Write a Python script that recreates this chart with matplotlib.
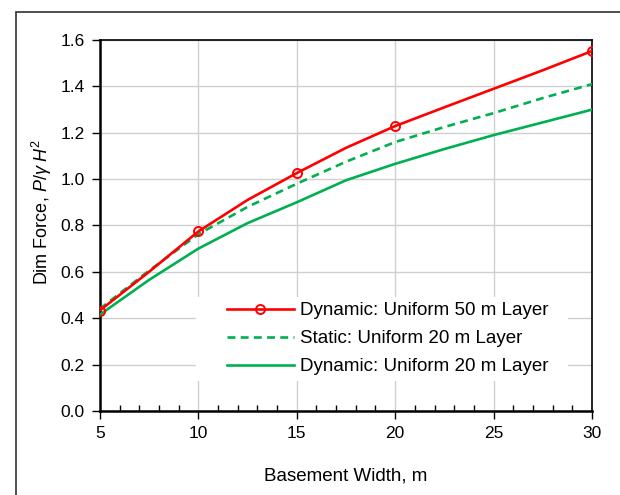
import matplotlib.pyplot as plt
from matplotlib.patches import Rectangle
from matplotlib.ticker import MultipleLocator

plt.rcParams['font.family'] = ['Liberation Sans', 'DejaVu Sans']
plt.rcParams['mathtext.fontset'] = 'custom'
plt.rcParams['mathtext.it'] = 'Liberation Sans:italic'
plt.rcParams['mathtext.rm'] = 'Liberation Sans'

# basement width (m) and dimensionless force readings
width = [5, 7.5, 10, 12.5, 15, 17.5, 20, 22.5, 25, 27.5, 30]
dyn_50 = [0.433, 0.600, 0.774, 0.910, 1.026, 1.135, 1.229, 1.310, 1.390, 1.470, 1.553]
stat_20 = [0.440, 0.605, 0.762, 0.880, 0.980, 1.075, 1.160, 1.225, 1.285, 1.350, 1.410]
dyn_20 = [0.415, 0.565, 0.700, 0.810, 0.900, 0.995, 1.066, 1.130, 1.190, 1.245, 1.300]
marker_idx = [0, 2, 4, 6, 10]  # points that carry a marker on the 50 m curve

red = '#FF0000'
green = '#00B050'

fig = plt.figure(figsize=(6.2, 4.95), dpi=100)
ax = fig.add_axes([0.161, 0.170, 0.794, 0.749])

ax.plot(width, dyn_50, color=red, lw=1.9, marker='o', markevery=marker_idx,
        ms=6.5, mfc='none', mec=red, mew=1.4, label='Dynamic: Uniform 50 m Layer', zorder=4)
ax.plot(width, stat_20, color=green, lw=1.9, ls=(0, (3, 2)),
        label='Static: Uniform 20 m Layer', zorder=3)
ax.plot(width, dyn_20, color=green, lw=1.9, label='Dynamic: Uniform 20 m Layer', zorder=3)

ax.set_xlim(5, 30)
ax.set_ylim(0, 1.6)
ax.xaxis.set_major_locator(MultipleLocator(5))
ax.xaxis.set_minor_locator(MultipleLocator(1))
ax.yaxis.set_major_locator(MultipleLocator(0.2))
ax.yaxis.set_major_formatter(plt.FormatStrFormatter('%.1f'))

ax.grid(True, which='major', color='#D0D0D0', lw=1)
ax.set_axisbelow(True)

for side in ['left', 'bottom']:
    ax.spines[side].set_linewidth(1.8)
for side in ['top', 'right']:
    ax.spines[side].set_linewidth(1.2)

ax.tick_params(axis='both', which='major', labelsize=12.5, direction='out', length=6, width=1)
ax.tick_params(axis='x', which='minor', direction='in', length=4, width=1)
ax.tick_params(axis='x', which='major', pad=5)
ax.tick_params(axis='y', which='major', pad=5)
ax.tick_params(top=False, right=False, which='both')

ax.set_xlabel('Basement Width, m', fontsize=13.5, labelpad=19)
ax.set_ylabel(r'Dim Force, $P/\gamma\;H^2$', fontsize=13)
ax.yaxis.set_label_coords(-0.094, 0.537)

# white panel behind the legend, cutting the gridlines
ax.add_patch(Rectangle((0.195, 0.081), 0.756, 0.227, transform=ax.transAxes,
                       facecolor='white', edgecolor='none', zorder=1))
ax.legend(loc='center left', bbox_to_anchor=(0.2575, 0.195), fontsize=13.5,
          frameon=False, borderpad=0, borderaxespad=0,
          handlelength=3.6, handletextpad=0.3, labelspacing=0.58)

# outer chart border
fig.patches.append(Rectangle((15.5 / 620, -0.1), 1.2, 1.1 - 12 / 495,
                             transform=fig.transFigure, fill=False,
                             edgecolor='#404040', lw=1.3))

fig.savefig('out.png', dpi=100)
